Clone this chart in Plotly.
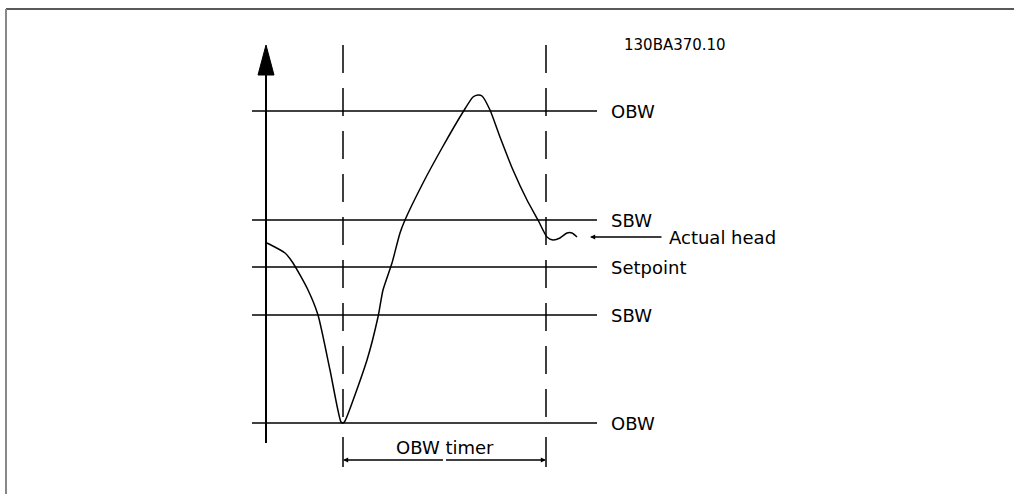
import plotly.graph_objects as go

# ---- data (time in px-like units from the y axis, head relative to setpoint) ----
curve_t = [1, 19, 27, 42, 52, 64, 75, 77, 79, 101, 112, 117, 126, 134, 139, 157, 176,
           197, 207, 212, 216, 224, 234, 247, 261, 272, 281, 287, 294, 301, 306, 311]
curve_h = [24, 14, 4, -23, -48, -103, -155, -156, -154, -93, -50, -23, 4, 34, 47, 84, 119,
           155, 170, 172, 171, 157, 130, 97, 67, 47, 30, 27, 29, 34, 34, 30]

level_names = ["OBW", "SBW", "Setpoint", "SBW", "OBW"]
level_values = [156, 47, 0, -48, -156]

timer_start = 77
timer_end = 280
actual_head_value = 30
doc_code = "130BA370.10"
timer_label = "OBW timer"
actual_label = "Actual head"

FONT = "DejaVu Sans"
fig = go.Figure()

# level lines
line_t0, line_t1 = -14, 331
for v in level_values:
    fig.add_trace(go.Scatter(x=[line_t0, line_t1], y=[v, v], mode="lines",
                             line=dict(color="black", width=1.5), hoverinfo="skip",
                             showlegend=False))

# y axis line
fig.add_trace(go.Scatter(x=[0, 0], y=[-176, 195], mode="lines",
                         line=dict(color="black", width=2), hoverinfo="skip", showlegend=False))
# arrow head
fig.add_trace(go.Scatter(x=[-8, 0, 8, -8], y=[192, 222, 192, 192], mode="lines",
                         fill="toself", fillcolor="black",
                         line=dict(color="black", width=1), hoverinfo="skip", showlegend=False))

# dashed time markers
for t, bottom in [(timer_start, -156), (timer_end, -156)]:
    fig.add_trace(go.Scatter(x=[t, t], y=[222, bottom], mode="lines",
                             line=dict(color="black", width=1.5, dash="28px,15px"),
                             hoverinfo="skip", showlegend=False))
    fig.add_trace(go.Scatter(x=[t, t], y=[-170, -200], mode="lines",
                             line=dict(color="black", width=1.5),
                             hoverinfo="skip", showlegend=False))

# curve
fig.add_trace(go.Scatter(x=curve_t, y=curve_h, mode="lines",
                         line=dict(color="black", width=1.5, shape="spline", smoothing=0.6),
                         hoverinfo="skip", showlegend=False))

# timer bracket arrows
mid = (timer_start + timer_end) / 2
for end in (timer_start, timer_end):
    fig.add_annotation(x=end, y=-193, ax=mid, ay=-193, xref="x", yref="y",
                       axref="x", ayref="y", text="", showarrow=True,
                       arrowhead=2, arrowsize=0.8, arrowwidth=1.3, arrowcolor="black")

fig.add_annotation(x=(timer_start + timer_end) / 2, y=-180, text=timer_label,
                   showarrow=False, font=dict(family=FONT, size=18, color="black"),
                   xanchor="center", yanchor="middle")

# actual head arrow
fig.add_annotation(x=324, y=actual_head_value, ax=397, ay=actual_head_value,
                   xref="x", yref="y", axref="x", ayref="y", text="", showarrow=True,
                   arrowhead=2, arrowsize=0.8, arrowwidth=1.3, arrowcolor="black")
fig.add_annotation(x=401, y=actual_head_value, text=actual_label, showarrow=False,
                   font=dict(family=FONT, size=18, color="black"),
                   xanchor="left", yanchor="middle")

# level labels
for name, v in zip(level_names, level_values):
    fig.add_annotation(x=343, y=v, text=name, showarrow=False,
                       font=dict(family=FONT, size=18, color="black"),
                       xanchor="left", yanchor="middle")

# document code
fig.add_annotation(x=356, y=222, text=doc_code, showarrow=False,
                   font=dict(family=FONT, size=15, color="black"),
                   xanchor="left", yanchor="middle")

# frame
fig.add_shape(type="line", xref="paper", yref="paper", x0=6/1014, x1=1, y0=1-9/494, y1=1-9/494,
              line=dict(color="#222222", width=1.5))
fig.add_shape(type="line", xref="paper", yref="paper", x0=6/1014, x1=6/1014, y0=0, y1=1-9/494,
              line=dict(color="#888888", width=2))

fig.update_layout(width=1014, height=494, autosize=False,
                  margin=dict(l=0, r=0, t=0, b=0),
                  paper_bgcolor="white", plot_bgcolor="white",
                  xaxis=dict(range=[-266, 748], visible=False, fixedrange=True),
                  yaxis=dict(range=[-227, 267], visible=False, fixedrange=True))

fig.write_html("out.html", config={"displayModeBar": False, "staticPlot": True},
               post_script="document.body.style.margin='0px';document.body.style.overflow='hidden';")
